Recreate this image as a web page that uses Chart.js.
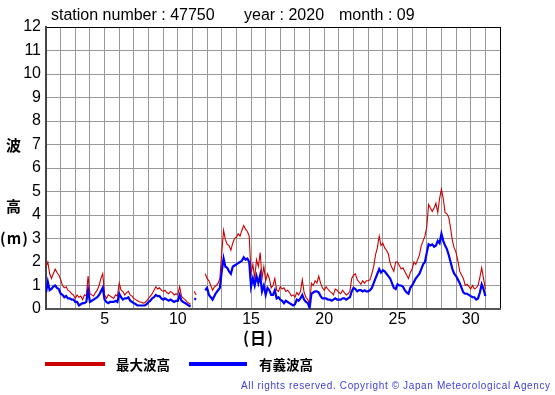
<!DOCTYPE html>
<html lang="ja">
  <head>
    <meta charset="UTF-8" />
    <title>Wave height 47750 2020-09</title>
    <script src="https://cdn.jsdelivr.net/npm/chart.js@4.4.0/dist/chart.umd.min.js"></script>
    <style>
      body {
        margin: 0;
        background: #fff;
        font-family: "Liberation Sans", Arial, sans-serif;
      }
      #wrap {
        position: relative;
        width: 555px;
        height: 395px;
      }
      #waveChart {
        position: absolute;
        left: 0;
        top: 0;
      }
      .txt {
        position: absolute;
        white-space: nowrap;
        line-height: 16px;
        color: #000;
      }
      .title {
        font-size: 16px;
        top: 7px;
      }
      .jp {
        font-family: "Noto Sans CJK JP", sans-serif;
        font-weight: bold;
        font-size: 15px;
      }
      .legend-line {
        position: absolute;
        height: 4px;
        top: 362px;
      }
      .copy {
        position: absolute;
        left: 241px;
        top: 380px;
        font-size: 10px;
        letter-spacing: 0.63px;
        color: #4040d8;
        white-space: nowrap;
      }
    </style>
  </head>
  <body>
    <div id="wrap">
      <canvas id="waveChart" width="555" height="395"></canvas>

      <div class="txt title" style="left: 51px">station number : 47750</div>
      <div class="txt title" style="left: 244px">year : 2020</div>
      <div class="txt title" style="left: 339px">month : 09</div>

      <div class="txt jp" style="left: 6px; top: 137px">波</div>
      <div class="txt jp" style="left: 6px; top: 198px">高</div>
      <div class="txt jp" style="left: 0px; top: 230px; letter-spacing: 1px">(m)</div>
      <div class="txt jp" style="left: 243px; top: 329px; font-size: 16px; letter-spacing: 1px">(日)</div>

      <div class="legend-line" style="left: 45px; width: 60px; background: #cc0000"></div>
      <div class="txt jp" style="left: 116px; top: 356px; font-size: 13.5px">最大波高</div>
      <div class="legend-line" style="left: 189px; width: 58px; background: #0000ff"></div>
      <div class="txt jp" style="left: 259px; top: 356px; font-size: 13.5px">有義波高</div>

      <div class="copy">All rights reserved. Copyright © Japan Meteorological Agency</div>
    </div>

    <script>
      // 3-hourly readings from Sep 1 00h to Oct 1 00h (null = missing)
      const firstDay = 1;
      const stepHours = 3;

      const maxWave = [
        1.8, 2.0, 1.5, 1.3, 1.5, 1.7, 1.55, 1.45,
        1.25, 1.0, 0.9, 0.95, 0.8, 0.75, 0.65, 0.6,
        0.45, 0.6, 0.5, 0.55, 0.4, 0.6, 0.55, 1.4,
        0.65, 0.6, 0.55, 0.7, 0.8, 1.0, 1.3, 1.5,
        0.6, 0.45, 0.6, 0.55, 0.5, 0.45, 0.6, 0.55,
        1.1, 0.8, 0.75, 0.6, 0.7, 0.75, 0.6, 0.55,
        0.45, 0.4, 0.35, 0.3, 0.3, 0.25, 0.27, 0.35,
        0.45, 0.55, 0.65, 0.8, 0.95, 0.85, 0.9, 0.8,
        0.75, 0.8, 0.7, 0.65, 0.75, 0.7, 0.6, 0.65,
        0.6, 0.95, 0.55, 0.45, 0.4, 0.3, 0.25, 0.2,
        null, 0.75, 0.6, null, null, null, null, 1.5,
        1.3, 1.2, 1.0, 0.8, 0.95, 1.0, 1.1, 1.3,
        2.4, 3.35, 2.95, 2.75, 2.7, 2.5, 2.8, 3.0,
        3.05, 3.2, 3.1, 3.35, 3.55, 3.4, 3.3, 3.1,
        1.5, 1.9, 1.3, 2.1, 1.8, 2.4, 1.3, 1.8,
        1.2, 1.5, 1.3, 0.9, 1.0, 1.3, 0.8, 0.75,
        0.95, 0.85, 0.9, 0.75, 0.8, 0.7, 0.55, 0.6,
        0.5, 0.7, 0.6, 0.75, 1.25, 0.7, 0.5, 0.4,
        0.2, 1.1, 1.0, 1.2, 1.1, 1.4, 1.1, 0.9,
        0.8, 0.95, 0.85, 0.75, 0.7, 0.6, 0.85, 0.8,
        0.7, 0.65, 0.8, 0.7, 0.6, 0.65, 0.75, 1.3,
        1.45, 1.5, 1.25, 1.15, 1.05, 1.2, 1.1, 1.2,
        1.2, 1.25, 1.5, 1.8, 2.3, 2.6, 3.1, 2.7,
        2.8, 2.6, 2.5, 2.35, 1.95, 1.75, 1.6, 2.0,
        2.0, 1.85, 1.7, 1.75, 1.6, 1.45, 1.3, 1.55,
        1.7, 2.0, 1.9, 2.1, 2.3, 2.7, 2.9, 3.1,
        3.5, 4.45, 4.3, 4.15, 4.3, 4.5, 4.1, 4.7,
        5.1, 4.7, 4.1, 4.05, 3.9, 3.45, 2.9, 2.6,
        2.4, 2.05, 1.6, 1.45, 1.3, 1.0, 1.05, 0.95,
        0.85, 1.0, 0.85, 0.9, 1.0, 1.35, 1.75, 1.3,
        0.85,
      ];

      const sigWave = [
        0.7, 1.15, 0.8, 0.85, 0.95, 1.0, 0.9, 0.85,
        0.65, 0.6, 0.5, 0.55, 0.45, 0.45, 0.4, 0.4,
        0.3, 0.3, 0.15, 0.2, 0.25, 0.25, 0.3, 0.8,
        0.3, 0.35, 0.4, 0.45, 0.5, 0.6, 0.75, 0.9,
        0.4, 0.3, 0.25, 0.3, 0.3, 0.3, 0.35, 0.3,
        0.65, 0.5, 0.4, 0.45, 0.45, 0.5, 0.35, 0.3,
        0.25, 0.2, 0.15, 0.15, 0.15, 0.15, 0.15, 0.2,
        0.3, 0.35, 0.45, 0.5, 0.6, 0.55, 0.55, 0.45,
        0.4, 0.45, 0.4, 0.35, 0.4, 0.35, 0.3, 0.35,
        0.35, 0.6, 0.35, 0.3, 0.25, 0.2, 0.15, 0.1,
        null, 0.45, 0.4, null, null, null, null, 0.8,
        0.9, 0.6, 0.5, 0.4, 0.55, 0.7, 0.8, 0.9,
        1.6, 2.15, 1.8, 1.75, 1.6, 1.5, 1.8, 1.85,
        1.9, 1.95, 2.0, 2.05, 2.2, 2.1, 2.15, 2.0,
        0.95, 1.3, 1.0, 1.4, 1.1, 1.45, 0.75, 1.0,
        0.6, 0.9, 0.8, 0.6, 0.6, 0.8, 0.45, 0.5,
        0.4, 0.35, 0.25, 0.35, 0.3, 0.25, 0.2, 0.15,
        0.2, 0.4, 0.35, 0.45, 0.6, 0.4, 0.3, 0.25,
        0.05, 0.65, 0.7, 0.75, 0.75, 0.7, 0.55, 0.45,
        0.45, 0.45, 0.4, 0.4, 0.35, 0.4, 0.45, 0.4,
        0.4, 0.4, 0.45, 0.45, 0.4, 0.45, 0.5, 0.75,
        0.9, 0.85, 0.75, 0.8, 0.8, 0.75, 0.8, 0.75,
        0.75, 0.8, 0.9, 1.1, 1.3, 1.5, 1.7, 1.55,
        1.65, 1.6, 1.5, 1.4, 1.3, 1.1, 0.9, 0.85,
        1.05, 1.0, 1.0, 0.95, 0.8, 0.7, 0.65, 0.9,
        1.0, 1.15, 1.3, 1.4, 1.5, 1.7, 1.9, 2.0,
        2.4, 2.75, 2.7, 2.75, 2.65, 2.7, 2.9, 2.8,
        3.2, 2.9, 2.7, 2.55, 2.3, 2.0, 1.7, 1.5,
        1.4, 1.25, 1.1, 0.9, 0.7, 0.65, 0.65, 0.6,
        0.55, 0.5, 0.5, 0.4, 0.45, 0.7, 1.05, 0.85,
        0.55,
      ];

      const dayLabels = [5, 10, 15, 20, 25, 30];

      function toPoints(values) {
        return values.map((v, i) => ({ x: firstDay + (i * stepHours) / 24, y: v }));
      }

      const ctx = document.getElementById("waveChart").getContext("2d");

      new Chart(ctx, {
        type: "line",
        data: {
          datasets: [
            {
              label: "有義波高",
              data: toPoints(sigWave),
              borderColor: "#0000ff",
              borderWidth: 2.2,
              pointRadius: 0,
              tension: 0,
              spanGaps: false,
            },
            {
              label: "最大波高",
              data: toPoints(maxWave),
              borderColor: "#cc0000",
              borderWidth: 1.1,
              pointRadius: 0,
              tension: 0,
              spanGaps: false,
            },
          ],
        },
        options: {
          responsive: false,
          animation: false,
          layout: { padding: { left: 0, top: 27, right: 55, bottom: 0 } },
          plugins: {
            legend: { display: false },
            tooltip: { enabled: false },
          },
          scales: {
            x: {
              type: "linear",
              min: 1,
              max: 32,
              afterFit: (s) => { s.height = 86; },
              ticks: {
                stepSize: 1,
                autoSkip: false,
                maxRotation: 0,
                padding: 1,
                color: "#000",
                font: { family: "Liberation Sans", size: 16 },
                callback: (v) => (dayLabels.includes(v) ? String(v) : ""),
              },
              grid: {
                drawTicks: false,
                lineWidth: 1,
                color: (c) => (c.tick && c.tick.value === 32 ? "#000" : "#999"),
              },
              border: { color: "#555", width: 2 },
            },
            y: {
              min: 0,
              max: 12,
              afterFit: (s) => { s.width = 46; },
              ticks: {
                stepSize: 1,
                padding: 5,
                color: "#000",
                font: { family: "Liberation Sans", size: 16 },
              },
              grid: {
                drawTicks: false,
                lineWidth: 1,
                color: (c) => (c.tick && c.tick.value === 12 ? "#000" : "#999"),
              },
              border: { color: "#444", width: 2 },
            },
          },
        },
      });
    </script>
  </body>
</html>
